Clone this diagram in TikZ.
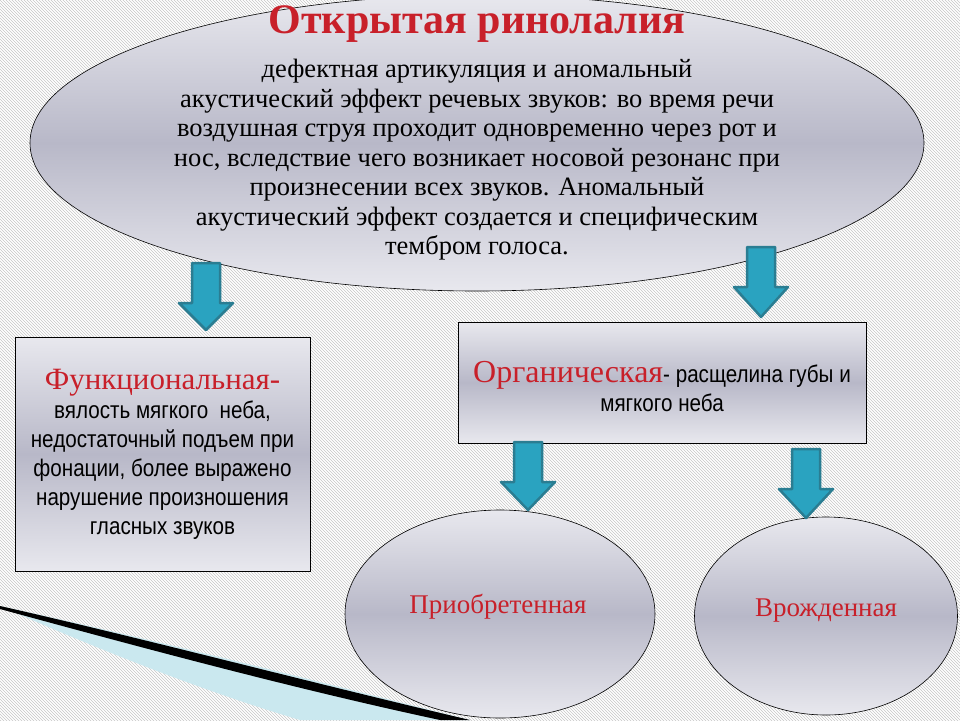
\documentclass[tikz,border=0pt]{standalone}
\usepackage{fontspec}
\setmainfont{Liberation Serif}
\newfontfamily\narrow[FakeStretch=0.86]{Liberation Sans}
\usetikzlibrary{patterns,shapes.geometric}
\definecolor{redt}{HTML}{C8202A}
\definecolor{teal1}{HTML}{2AA3C0}
\definecolor{teal2}{HTML}{2A7D92}
\definecolor{lav}{HTML}{B8B8C8}
\definecolor{lavl}{HTML}{E8E8EE}
\tikzset{
 grad/.style={draw=black,line width=0.6pt,top color=lavl,bottom color=lavl,middle color=lav},
 bigtext/.style={align=center,font=\fontsize{26.5}{29.5}\selectfont},
 sanst/.style={align=center,font=\narrow\fontsize{24}{29}\selectfont},
 redh/.style={text=redt},
}
\newcommand{\blockarrow}[4]{% x, ytop, ytip, name
 \draw[draw=teal2,line width=2.5pt,fill=teal1,line join=round]
  (#1-14,#2) -- (#1+14,#2) -- (#1+14,#2+40) -- (#1+27,#2+40) -- (#1,#3) -- (#1-27,#2+40) -- (#1-14,#2+40) -- cycle;
 \coordinate (#4) at (#1,#3);}
\begin{document}
\begin{tikzpicture}[x=1pt,y=-1pt]
\fill[white] (0,0) rectangle (960,720);
\fill[pattern=north west lines,pattern color=gray!45] (0,0) rectangle (960,720);
\useasboundingbox (0,0) rectangle (960,720);
% swoosh
\fill[teal1!25] (0,606) .. controls (200,650) and (350,690) .. (470,720) -- (300,720) .. controls (200,690) and (100,650) .. cycle;
\fill[black] (0,606) .. controls (150,640) and (300,680) .. (470,720) -- (440,720) .. controls (300,690) and (150,650) .. (0,609) -- cycle;
% main ellipse
\node[grad,ellipse,minimum width=894,minimum height=296] (top) at (477,143) {};
\node[redh,font=\bfseries\fontsize{42}{44}\selectfont] (title) at (477,24) {Открытая ринолалия};
\node[bigtext] (desc) at (477,160) {дефектная артикуляция и аномальный\\акустический эффект речевых звуков: во время речи\\воздушная струя проходит одновременно через рот и\\нос, вследствие чего возникает носовой резонанс при\\произнесении всех звуков. Аномальный\\акустический эффект создается и специфическим\\тембром голоса.};
% boxes
\node[grad,rectangle,minimum width=295,minimum height=234] (func) at (162.5,454) {};
\node[sanst] at (162.5,454) {{\rmfamily\color{redt}\fontsize{31}{29}\selectfont Функциональная-}\\вялость мягкого~~неба,\\недостаточный подъем при\\фонации, более выражено\\нарушение произношения\\гласных звуков};
\node[grad,rectangle,minimum width=408,minimum height=121] (org) at (662,382.5) {};
\node[sanst] at (662,387) {{\rmfamily\color{redt}\fontsize{32}{29}\selectfont Органическая}- расщелина губы и\\мягкого неба};
\node[grad,ellipse,minimum width=310,minimum height=208] (acq) at (500,614) {};
\node[redh,font=\fontsize{27}{30}\selectfont] at (498,607) {Приобретенная};
\node[grad,ellipse,minimum width=263,minimum height=198] (cong) at (826,616) {};
\node[redh,font=\fontsize{27}{30}\selectfont] at (826,611) {Врожденная};
% arrows
\blockarrow{206}{263}{330}{a1}
\blockarrow{761}{247}{317}{a2}
\blockarrow{528}{442}{510}{a3}
\blockarrow{806}{449}{518}{a4}
\end{tikzpicture}
\end{document}
